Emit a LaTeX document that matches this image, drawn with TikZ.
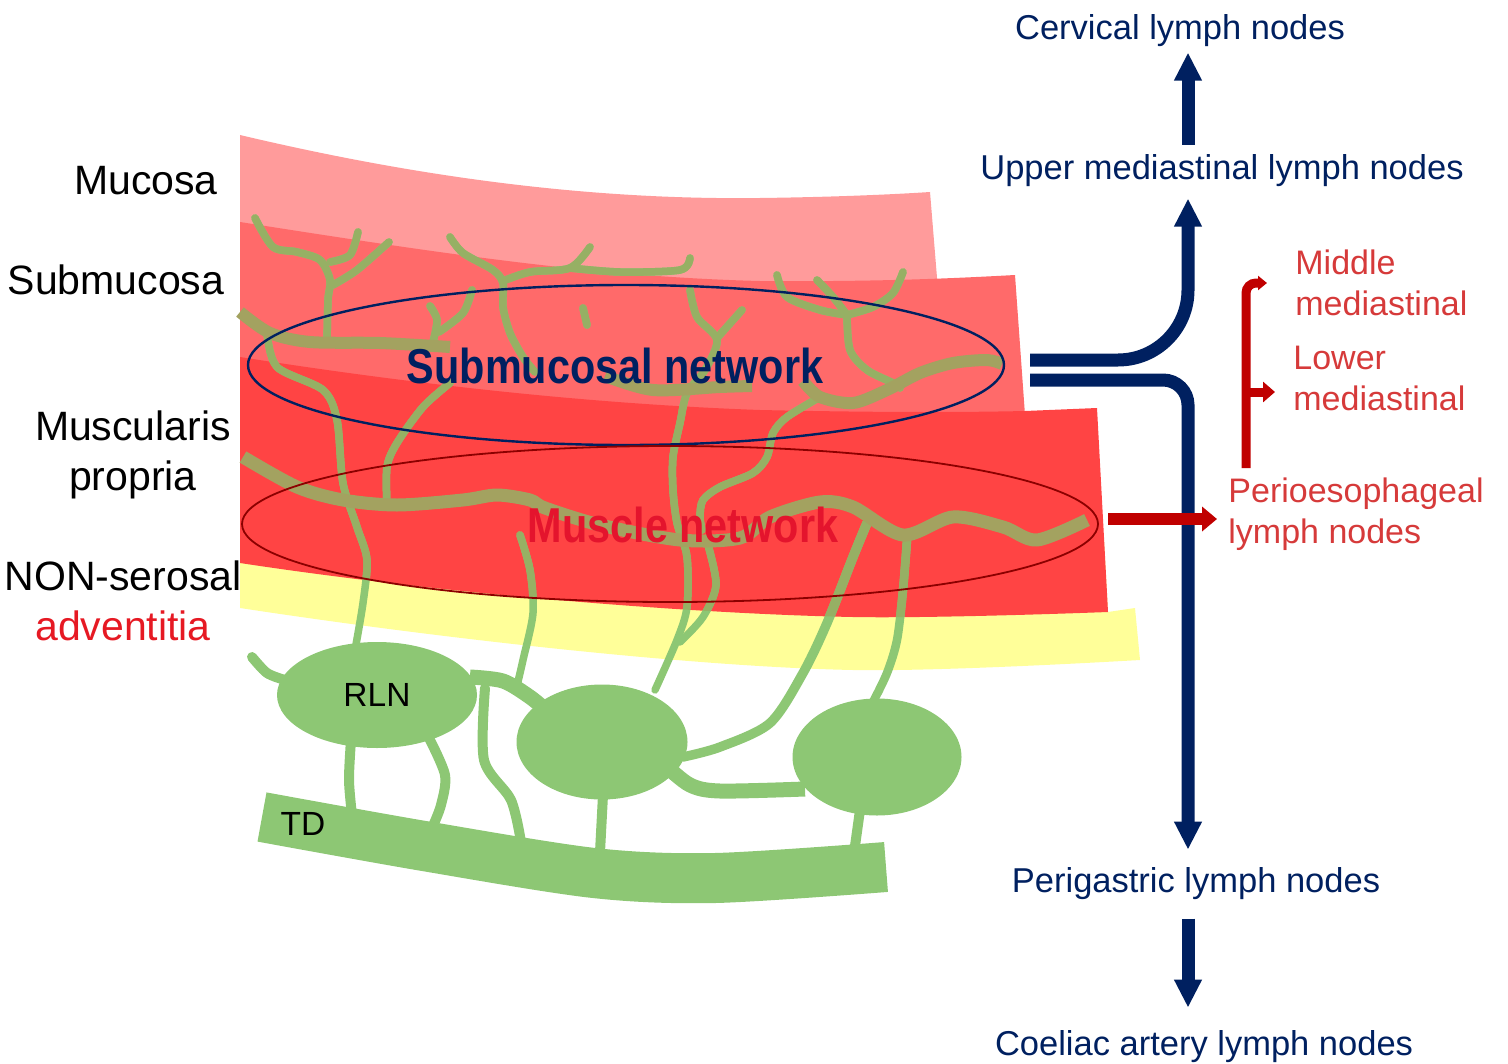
\documentclass[tikz,border=0pt]{standalone}
\usepackage{fontspec}
\setmainfont{Liberation Sans}
\usetikzlibrary{positioning,shapes.geometric,arrows.meta}

\definecolor{mucosapink}{RGB}{255,155,155}
\definecolor{submucred}{RGB}{255,106,106}
\definecolor{musclered}{RGB}{255,68,68}
\definecolor{adventyellow}{RGB}{255,255,153}
\definecolor{lymgreen}{RGB}{141,199,116}
\definecolor{lymolive}{RGB}{150,176,100}
\definecolor{trunkolive}{RGB}{163,162,96}
\definecolor{navyblue}{RGB}{0,32,96}
\definecolor{arrowred}{RGB}{192,0,0}
\definecolor{labelred}{RGB}{214,58,58}
\definecolor{adventred}{RGB}{230,25,35}
\definecolor{netred}{RGB}{228,20,45}
\definecolor{ellred}{RGB}{140,0,0}

\tikzset{
  layerlabel/.style={inner sep=0pt, align=center, font=\fontsize{20.5}{25}\selectfont},
  navylabel/.style={inner sep=0pt, anchor=base, text=navyblue, font=\fontsize{17.25}{20.5}\selectfont},
  redlabel/.style={inner sep=0pt, anchor=west, align=left, text=labelred, font=\fontsize{17}{20.5}\selectfont},
  netlabel/.style={inner sep=0pt, xscale=0.845, font=\fontsize{24.5}{28}\selectfont\bfseries},
  lymphnode/.style={ellipse, fill=lymgreen, inner sep=0pt, font=\fontsize{16.75}{20}\selectfont},
  vessel/.style={line width=3.75pt, line cap=round, line join=round},
  deepvessel/.style={lymgreen, line width=5pt, line cap=round, line join=round},
  trunk/.style={trunkolive, line width=6pt, line join=round},
  link/.style={lymgreen, line width=7.5pt, line join=round},
  navyline/.style={navyblue, line width=6.5pt, -{Triangle[width=13pt,length=14pt]}},
  redline/.style={arrowred},
}

% lymphatics running in the wall
\newcommand{\wallvessels}{
  \draw plot[smooth] coordinates {(255,218) (273,247) (297,252) (320,260) (330,280) (328,300) (327,343)};
  \draw plot[smooth] coordinates {(333,285) (357,270) (389,242)};
  \draw plot[smooth] coordinates {(330,262) (350,255) (358,232)};
  \draw plot[smooth] coordinates {(430,306) (437,320) (433,342)};
  \draw plot[smooth] coordinates {(439,332) (463,313) (472,290)};
  \draw plot[smooth] coordinates {(267,333) (277,367) (323,390) (337,420) (343,483) (357,527) (367,560) (363,603) (355,650)};
  \draw plot[smooth] coordinates {(450,383) (423,407) (397,443) (387,467) (387,507)};
  \draw plot[smooth] coordinates {(450,237) (463,253) (493,270) (503,283) (503,307) (510,333) (523,357) (535,372)};
  \draw plot[smooth] coordinates {(503,281) (530,272) (570,268) (590,247)};
  \draw plot[smooth] coordinates {(570,268) (620,272) (680,270) (690,258)};
  \draw (583,308) -- (587,325);
  \draw plot[smooth] coordinates {(690,290) (697,317) (717,340) (705,370) (687,393) (680,423) (673,457) (673,490) (677,523) (687,557) (687,607) (677,640) (655,690)};
  \draw plot[smooth] coordinates {(717,338) (742,310)};
  \draw plot[smooth] coordinates {(820,397) (787,417) (773,433) (767,457) (753,473) (720,487) (703,500) (700,517) (702,530)};
  \draw plot[smooth] coordinates {(847,315) (850,350) (867,370) (893,383) (900,388)};
  \draw plot[smooth] coordinates {(777,275) (787,297) (820,310) (847,315)};
  \draw plot[smooth] coordinates {(817,280) (833,297) (847,315)};
  \draw plot[smooth] coordinates {(903,272) (893,293) (873,307) (847,315)};
  \draw plot[smooth] coordinates {(520,535) (530,570) (533,613) (523,660) (516,690)};
  \draw plot[smooth] coordinates {(708,545) (716,585) (703,617) (680,642)};
  \draw[line width=4.75pt] plot[smooth] coordinates {(867,523) (853,557) (827,623) (803,673) (770,723) (720,747) (683,757)};
  \draw[line width=4.25pt] plot[smooth] coordinates {(907,540) (903,590) (897,640) (887,673) (873,702)};
}

\begin{document}
\begin{tikzpicture}[x=0.5pt, y=-0.5pt]
  \useasboundingbox (0,0) rectangle (1508,1064);

  % layers of the wall
  \fill[mucosapink] (240,135) .. controls (430,180) and (600,200) .. (760,198) .. controls (840,197) and (900,194) .. (930,192) -- (938,290) -- (240,300) -- cycle;
  \fill[submucred] (240,222) .. controls (450,255) and (600,277) .. (760,281) .. controls (880,282) and (960,278) .. (1015,275) -- (1025,415) -- (240,420) -- cycle;
  \fill[adventyellow] (240,540) -- (1104,540) -- (1108,612) -- (1135,608) -- (1140,660) .. controls (1000,668) and (900,671) .. (853,670) .. controls (700,667) and (450,640) .. (240,608) -- cycle;
  \fill[musclered] (240,357) .. controls (450,390) and (620,405) .. (760,410) .. controls (900,413) and (980,412) .. (1025,411) -- (1097,408) -- (1108,612) .. controls (1000,616) and (900,618) .. (853,617) .. controls (700,614) and (450,595) .. (240,563) -- cycle;

  % thoracic duct and vessels below the wall
  \draw[lymgreen, line width=25pt] plot[smooth] coordinates {(262,817) (424,846) (594,873) (715,878) (886,867)};
  \draw[deepvessel] plot[smooth] coordinates {(252,657) (267,673) (285,680)};
  \draw[deepvessel] plot[smooth] coordinates {(485,688) (484,760) (511,800) (521,842)};
  \draw[deepvessel] plot[smooth] coordinates {(351,740) (349,780) (352,815)};
  \draw[deepvessel] plot[smooth] coordinates {(429,738) (445,775) (441,805) (432,828)};
  \draw[deepvessel] plot[smooth] coordinates {(603,795) (600,852)};
  \draw[deepvessel] plot[smooth] coordinates {(860,810) (855,846)};
  \draw[link] plot[smooth] coordinates {(470,677) (503,681) (530,697) (548,712)};
  \draw[link] plot[smooth] coordinates {(665,765) (690,785) (720,791) (805,789)};

  \begin{scope}[vessel, color=lymgreen]
    \wallvessels
  \end{scope}
  \begin{scope}
    \clip (240,135) .. controls (430,180) and (600,200) .. (760,198) .. controls (840,197) and (900,194) .. (930,192) -- (938,279) -- (1015,275) -- (1025,411) -- (1097,408) -- (1108,612) .. controls (1000,616) and (900,618) .. (853,617) .. controls (700,614) and (450,595) .. (240,563) -- cycle;
    \begin{scope}[vessel, color=lymolive]
      \wallvessels
    \end{scope}
  \end{scope}

  % networks
  \draw[trunk] plot[smooth] coordinates {(240,312) (270,333) (310,342) (380,343) (450,347)};
  \draw[trunk] plot[smooth] coordinates {(605,376) (653,390) (720,387) (752,386)};
  \draw[trunk] plot[smooth] coordinates {(803,381) (820,397) (853,403) (887,390) (920,373) (953,363) (987,360) (1002,364)};
  \draw[trunk, line width=6.5pt] plot[smooth] coordinates {(243,457) (297,487) (343,500) (397,505) (463,500) (497,495) (530,500) (545,508) (600,525) (680,540) (740,538) (770,517) (820,502) (853,507) (903,535) (953,517) (1003,527) (1037,540) (1087,520)};

  % lymph nodes
  \node[lymphnode, minimum width=100pt, minimum height=53pt] (rln) at (377,695) {RLN};
  \node[lymphnode, minimum width=85.5pt, minimum height=57.5pt] (ln2) at (602,742) {};
  \node[lymphnode, minimum width=84.5pt, minimum height=58.5pt] (ln3) at (877,757) {};
  \node[inner sep=0pt, font=\fontsize{16.75}{20}\selectfont] (td) at (303,824) {TD};

  \draw[navyblue, line width=1.2pt] (626,365) ellipse [x radius=378, y radius=80];
  \draw[ellred, line width=0.9pt] (670,524) ellipse [x radius=428, y radius=78];
  \node[netlabel, text=navyblue] (subnet) at (615,366) {Submucosal network};
  \node[netlabel, text=netred] (musnet) at (683,525) {Muscle network};

  % layer names
  \node[layerlabel] (muc) at (146,181) {Mucosa};
  \node[layerlabel] (submuc) at (116,280) {Submucosa};
  \node[layerlabel] (musc) at (133,455) {Muscularis\\propria};
  \node[layerlabel] (adv) at (123,601) {NON-serosal\\\textcolor{adventred}{adventitia}};

  % lymph node stations
  \node[navylabel] (cerv) at (1180,40) {Cervical lymph nodes};
  \node[navylabel] (upper) at (1222,180) {Upper mediastinal lymph nodes};
  \node[navylabel] (peri) at (1196,892) {Perigastric lymph nodes};
  \node[navylabel] (coel) at (1204,1055) {Coeliac artery lymph nodes};
  \node[redlabel] (mid) at (1295,283) {Middle\\mediastinal};
  \node[redlabel] (low) at (1293,378) {Lower\\mediastinal};
  \node[redlabel] (perio) at (1228,514) {Perioesophageal\\lymph nodes};

  \coordinate (spine) at (1188,0);
  \coordinate (out1) at (1030,360);
  \coordinate (out2) at (1030,380);
  \draw[navyline, shorten <=5pt, shorten >=2.5pt] (upper.north -| spine) -- (cerv.south -| spine);
  \draw[navyline, rounded corners=35pt, shorten >=5.5pt] (out1) -- (out1 -| spine) -- (upper.south -| spine);
  \draw[navyline, rounded corners=12.5pt, shorten >=8.5pt] (out2) -- (out2 -| spine) -- (peri.north -| spine);
  \draw[navyline, shorten <=9.5pt, shorten >=11pt] (peri.south -| spine) -- (coel.north -| spine);

  \coordinate (muscout) at (1108,519);
  \coordinate (brk) at (1246,468);
  \coordinate (lowarr) at (1246,392);
  \draw[redline, line width=5.8pt, -{Triangle[width=12pt,length=7.5pt]}, shorten >=5.5pt] (muscout) -- (muscout -| perio.west);
  \draw[redline, line width=4.5pt, rounded corners=5pt, -{Triangle[width=7pt,length=4.5pt]}, shorten >=14pt] (brk) |- (mid.west);
  \draw[redline, line width=4.5pt, -{Triangle[width=10pt,length=6pt]}, shorten >=9pt] (lowarr) -- (lowarr -| low.west);
\end{tikzpicture}
\end{document}
